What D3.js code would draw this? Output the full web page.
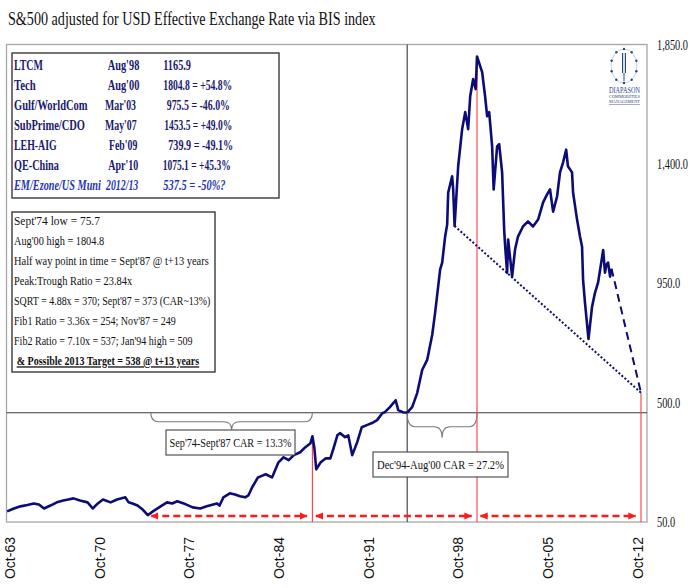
<!DOCTYPE html>
<html><head><meta charset="utf-8">
<script src="https://cdn.jsdelivr.net/npm/d3@7"></script>
<style>body{margin:0;background:#fff}svg{display:block}</style>
</head><body><svg id="c" width="700" height="588"></svg>
<script>
// ---------- DATA ----------
const years = [1963.72,1964.2,1964.76,1965.3,1965.8,1966.2,1966.6,1967.1,1967.6,1968.1,1968.5,1968.9,1969.4,1970.0,1970.4,1970.8,1971.2,1971.8,1972.3,1972.95,1973.2,1973.5,1973.9,1974.3,1974.7,1975.1,1975.7,1976.2,1976.6,1977.0,1977.5,1978.2,1978.8,1979.3,1980.1,1980.3,1980.6,1981.1,1981.5,1981.9,1982.3,1982.55,1982.85,1983.3,1983.6,1983.9,1984.4,1984.9,1985.3,1985.7,1986.1,1986.6,1987.0,1987.4,1987.55,1987.7,1987.85,1988.2,1988.6,1988.95,1989.2,1989.5,1989.7,1990.1,1990.35,1990.66,1991.05,1991.4,1991.8,1992.2,1992.6,1993.0,1993.2,1993.6,1994.05,1994.25,1994.6,1994.95,1995.34,1995.73,1996.12,1996.51,1996.9,1997.13,1997.52,1997.68,1997.91,1998.07,1998.15,1998.46,1998.54,1998.65,1998.93,1999.24,1999.48,1999.71,1999.87,2000.1,2000.3,2000.4,2000.8,2001.03,2001.19,2001.35,2001.58,2001.7,2001.97,2002.13,2002.36,2002.52,2002.6,2002.75,2002.83,2003.14,2003.37,2003.6,2003.99,2004.38,2004.77,2005.17,2005.56,2005.87,2006.1,2006.34,2006.65,2006.88,2007.12,2007.36,2007.5,2007.82,2007.9,2008.21,2008.44,2008.6,2008.68,2008.83,2009.1,2009.38,2009.61,2009.85,2010.25,2010.39,2010.5,2010.63,2010.79,2010.9];
const values = [90,100,109,114,120,116,101,112,124,131,135,139,131,124,101,120,135,124,135,143,124,120,112,97,75.7,90,109,124,120,128,120,105,101,109,120,112,143,158,154,147,143,150,181,218,224,230,218,275,294,283,302,313,332,347,373,330,249,275,290,290,328,377,385,370,377,302,351,407,415,423,434,460,464,483,509,472,464,462,483,536,623,661,755,839,1001,1028,1126,1171,1292,1353,1304,1165.9,1391,1531,1595,1531,1655,1720,1682,1804.8,1746,1655,1580,1595,1466,1304,1466,1474,1368,1152,1088,990,1115,975.5,1077,1126,1164,1183,1164,1190,1255,1285,1304,1220,1277,1368,1406,1453.5,1391,1368,1292,1190,1126,1088,963,876,739.9,861,914,952,1075.1,990,1020,1028,975,1005];
const tickDates = [[1963,9],[1970,9],[1977,9],[1984,9],[1991,9],[1998,9],[2005,9],[2012,9]];
const tickLabels = ["Oct-63","Oct-70","Oct-77","Oct-84","Oct-91","Oct-98","Oct-05","Oct-12"];
const yTicks = [50,500,950,1400,1850];
const eventNames = ["LTCM","Tech","Gulf/WorldCom","SubPrime/CDO","LEH-AIG","QE-China","EM/Ezone/US Muni"];
const eventDates = ["Aug'98","Aug'00","Mar'03","May'07","Feb'09","Apr'10","2012/13"];
const eventValues = ["1165.9","1804.8 = +54.8%","975.5 = -46.0%","1453.5 = +49.0%","739.9  = -49.1%","1075.1 = +45.3%","537.5 =  -50%?"];
const notes = ["Sept'74 low  = 75.7","Aug'00 high = 1804.8","Half way point in time = Sept'87 @ t+13 years","Peak:Trough Ratio = 23.84x","SQRT = 4.88x = 370; Sept'87 = 373 (CAR~13%)","Fib1 Ratio = 3.36x = 254; Nov'87 = 249","Fib2 Ratio = 7.10x = 537; Jan'94 high = 509","& Possible 2013 Target = 538 @ t+13 years"];
const cycleYears = [1974.7, 1987.55, 2000.4, 2013.2];
const targetValue = 537.5;
const ltcmYear = 1998.65, ltcmValue = 1165.9;
const crossYear = 1994.95, crossValue = 462;
const carLabels = ["Sep'74-Sept'87 CAR = 13.3%","Dec'94-Aug'00 CAR = 27.2%"];
const titleText = "S&500 adjusted for USD Effective Exchange Rate via BIS index";

// ---------- LAYOUT ----------
const svg = d3.select("#c");
const SERIF = "'Liberation Serif','Times New Roman',serif";
const NAVY = "#0c0c78";
function dy2d(v){const yr=Math.floor(v);const a=Date.UTC(yr,0,1),b=Date.UTC(yr+1,0,1);return new Date(a+(v-yr)*(b-a));}
const L=6.5,R=647,T=44.5,B=522;
const x = d3.scaleUtc().domain([dy2d(1963.67), dy2d(2013.67)]).range([L,R]);
const y = d3.scaleLinear().domain([50,1850]).range([B,T]);
function fit(sel,w){sel.each(function(){
  const tx=+this.getAttribute("x")||0, ty=+this.getAttribute("y")||0;
  this.setAttribute("x",0);this.setAttribute("y",0);
  const w0=this.getComputedTextLength();
  this.setAttribute("transform",`translate(${tx},${ty}) scale(${w/w0},1)`);});return sel;}

fit(svg.append("text").attr("x",8).attr("y",25).attr("font-family",SERIF).attr("font-size",19.5).attr("fill","#111").text(titleText),368);

svg.append("rect").attr("x",L).attr("y",T).attr("width",R-L).attr("height",B-T).attr("fill","none").attr("stroke","#a6a6a6").attr("stroke-width",1.3);

svg.append("line").attr("x1",L).attr("x2",R).attr("y1",y(crossValue)).attr("y2",y(crossValue)).attr("stroke","#3a3a3a").attr("stroke-width",1.1);
svg.append("line").attr("x1",x(dy2d(crossYear))).attr("x2",x(dy2d(crossYear))).attr("y1",T).attr("y2",B).attr("stroke","#3a3a3a").attr("stroke-width",1.1);

const peakVals=[373,1804.8,targetValue];
cycleYears.slice(1).forEach((cy,i)=>{
  svg.append("line").attr("x1",x(dy2d(cy))).attr("x2",x(dy2d(cy))).attr("y1",y(peakVals[i])).attr("y2",B).attr("stroke","#ff3b3b").attr("stroke-width",1.1);
});

const pts = years.map((yr,i)=>[dy2d(yr),values[i]]);
svg.append("path").datum(pts).attr("fill","none").attr("stroke",NAVY).attr("stroke-width",2.6).attr("stroke-linejoin","round")
  .attr("d",d3.line().x(d=>x(d[0])).y(d=>y(d[1])));

const tgt=[dy2d(cycleYears[3]),targetValue];
svg.append("path").datum([[dy2d(ltcmYear),ltcmValue],tgt]).attr("fill","none").attr("stroke",NAVY).attr("stroke-width",2).attr("stroke-dasharray","2,2")
  .attr("d",d3.line().x(d=>x(d[0])).y(d=>y(d[1])));
svg.append("path").datum([pts[pts.length-1],tgt]).attr("fill","none").attr("stroke",NAVY).attr("stroke-width",2).attr("stroke-dasharray","8,5")
  .attr("d",d3.line().x(d=>x(d[0])).y(d=>y(d[1])));

const defs=svg.append("defs");
defs.append("marker").attr("id","ah").attr("viewBox","0 -5 10 10").attr("refX",9).attr("refY",0)
  .attr("markerWidth",8).attr("markerHeight",8).attr("markerUnits","userSpaceOnUse").attr("orient","auto-start-reverse")
  .append("path").attr("d","M0,-4.5L10,0L0,4.5Z").attr("fill","#ff1a1a");
for(let i=0;i<3;i++){
  svg.append("line").attr("x1",x(dy2d(cycleYears[i]))+3.5).attr("x2",x(dy2d(cycleYears[i+1]))-5.5).attr("y1",516).attr("y2",516)
    .attr("stroke","#ff1a1a").attr("stroke-width",2.6).attr("stroke-dasharray","7,4")
    .attr("marker-start","url(#ah)").attr("marker-end","url(#ah)");
}

function brace(x1,x2,y0,h,t){const xm=(x1+x2)/2,q=8;
  return `M${x1},${y0} Q${x1},${y0+h} ${x1+q},${y0+h} L${xm-q},${y0+h} Q${xm},${y0+h} ${xm},${y0+h+t} Q${xm},${y0+h} ${xm+q},${y0+h} L${x2-q},${y0+h} Q${x2},${y0+h} ${x2},${y0}`;}
const yc=y(crossValue);
svg.append("path").attr("d",brace(x(dy2d(cycleYears[0]))+3,x(dy2d(cycleYears[1])),yc,9,8)).attr("fill","none").attr("stroke","#7a7a7a").attr("stroke-width",1.1);
svg.append("path").attr("d",brace(x(dy2d(crossYear)),x(dy2d(cycleYears[2])),yc,14,11)).attr("fill","none").attr("stroke","#7a7a7a").attr("stroke-width",1.1);

const carBoxes=[[166,430,129,25,122],[373,452,135,25,127]];
carLabels.forEach((s,i)=>{const [bx,by,bw,bh,tw]=carBoxes[i];
  svg.append("rect").attr("x",bx).attr("y",by).attr("width",bw).attr("height",bh).attr("fill","#fff").attr("stroke","#444").attr("stroke-width",1.1);
  fit(svg.append("text").attr("x",bx+bw/2).attr("y",by+bh/2+4.5).attr("text-anchor","middle").attr("font-family",SERIF).attr("font-size",13).attr("fill","#111").text(s),tw);
});

svg.append("rect").attr("x",12).attr("y",53).attr("width",267).attr("height",145).attr("fill","#fff").attr("stroke","#3a3a3a").attr("stroke-width",1.4);
const tl=[[29,107.7,31.7,163.3,27.7],[21.7,107.7,31.7,163.3,69],[73.7,105,31,166.7,63.3],[71,105,31.7,164.3,68],[42.7,109,28.3,168.3,65],[45,108.3,30,162.7,68],[87,106,32.3,163.3,62.3]];
eventNames.forEach((n,i)=>{const yy=69.5+i*20;const it=i===6;
  const col=it?"#1f35b0":"#1a1a6e";
  const mk=(xx,s,w)=>fit(svg.append("text").attr("x",xx).attr("y",yy).attr("font-family",SERIF).attr("font-size",14).attr("font-weight","bold").attr("font-style",it?"italic":"normal").attr("fill",col).text(s),w);
  mk(14,n,tl[i][0]);mk(tl[i][1],eventDates[i],tl[i][2]);mk(tl[i][3],eventValues[i],tl[i][4]);
});

svg.append("rect").attr("x",12).attr("y",212).attr("width",203).attr("height",160).attr("fill","#fff").attr("stroke","#3a3a3a").attr("stroke-width",1.4);
const nw=[86,90.3,195,118.3,196.7,161.7,178.7,182.7];
notes.forEach((s,i)=>{const last=i===notes.length-1;
  const t=svg.append("text").attr("x",last?16.7:14).attr("y",224.5+i*20.1).attr("font-family",SERIF).attr("font-size",13)
    .attr("font-weight",last?"bold":"normal").attr("text-decoration",last?"underline":"none").attr("fill","#111").text(s);
  fit(t,nw[i]);
});

const xa=svg.append("g").attr("transform",`translate(0,530)`)
  .call(d3.axisBottom(x).tickValues(tickDates.map(d=>new Date(Date.UTC(d[0],d[1],1)))).tickFormat((d,i)=>tickLabels[i]).tickSize(0));
xa.select(".domain").remove();
xa.selectAll("text").attr("transform","translate(2,0) rotate(-90)").attr("text-anchor","end").attr("x",-7).attr("y",0).attr("dy","0.35em")
  .attr("font-family","'Liberation Sans',Arial,sans-serif").attr("font-size",14).attr("fill","#111");

const ya=svg.append("g").attr("transform",`translate(657,0)`)
  .call(d3.axisRight(y).tickValues(yTicks).tickFormat(d3.format(",.1f")).tickSize(0));
ya.select(".domain").remove();
ya.selectAll("text").attr("x",0).attr("dy","0.33em").attr("text-anchor","start").attr("font-family",SERIF).attr("font-size",14).attr("fill","#111")
  .attr("transform","scale(0.74,1)");

const lg=svg.append("g").attr("transform","translate(624,66)");
lg.append("ellipse").attr("rx",13).attr("ry",17).attr("fill","none").attr("stroke","#a9bde0").attr("stroke-width",0.7);
d3.range(10).forEach(k=>{const a=k/10*2*Math.PI;lg.append("circle").attr("cx",13*Math.sin(a)).attr("cy",-17*Math.cos(a)).attr("r",1.2).attr("fill","#2a4584");});
lg.append("rect").attr("x",-2).attr("y",-13).attr("width",1.2).attr("height",20).attr("fill","#2a4584");
lg.append("rect").attr("x",0.8).attr("y",-13).attr("width",1.2).attr("height",20).attr("fill","#2a4584");
lg.append("rect").attr("x",-0.5).attr("y",7).attr("width",1).attr("height",8).attr("fill","#2a4584");
fit(lg.append("text").attr("x",-15).attr("y",27).attr("font-family",SERIF).attr("font-size",7.5).attr("fill","#2a4584").text("DIAPASON"),31);
fit(lg.append("text").attr("x",-15).attr("y",32).attr("font-family",SERIF).attr("font-size",4.5).attr("fill","#2a4584").text("COMMODITIES"),31);
fit(lg.append("text").attr("x",-15).attr("y",37).attr("font-family",SERIF).attr("font-size",4.5).attr("fill","#2a4584").attr("text-decoration","underline").text("MANAGEMENT"),31);
</script></body></html>
